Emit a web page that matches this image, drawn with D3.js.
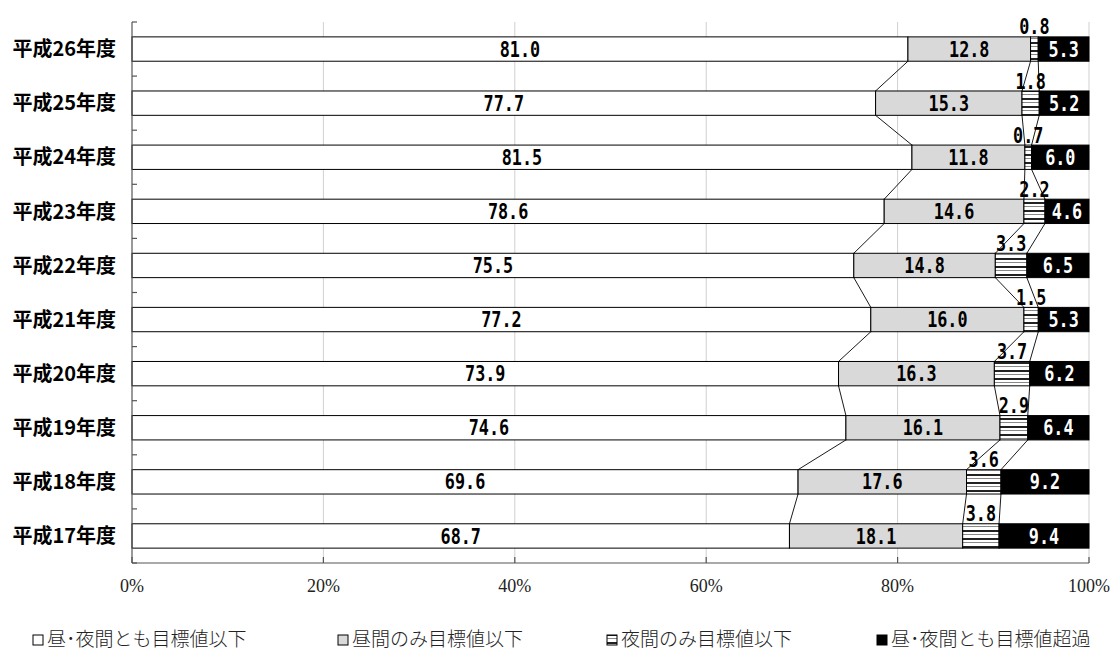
<!DOCTYPE html>
<html><head><meta charset="utf-8">
<script src="https://cdn.jsdelivr.net/npm/d3@7"></script>
<style>
html,body{margin:0;padding:0;background:#fff;}
svg{display:block;}
</style></head>
<body>
<svg id="chart" width="1112" height="651"></svg>
<script>
// ---- data ----
const categories = ["平成26年度","平成25年度","平成24年度","平成23年度","平成22年度","平成21年度","平成20年度","平成19年度","平成18年度","平成17年度"];
const seriesNames = ["昼･夜間とも目標値以下","昼間のみ目標値以下","夜間のみ目標値以下","昼･夜間とも目標値超過"];
const bothBelow  = [81.0,77.7,81.5,78.6,75.5,77.2,73.9,74.6,69.6,68.7];
const dayOnly    = [12.8,15.3,11.8,14.6,14.8,16.0,16.3,16.1,17.6,18.1];
const nightOnly  = [0.8,1.8,0.7,2.2,3.3,1.5,3.7,2.9,3.6,3.8];
const bothAbove  = [5.3,5.2,6.0,4.6,6.5,5.3,6.2,6.4,9.2,9.4];
const xTicks = [0,20,40,60,80,100];
const xTickLabels = ["0%","20%","40%","60%","80%","100%"];

// ---- layout ----
const L = 132, R = 1089, T = 22, B = 563;
const svg = d3.select("#chart");
const defs = svg.append("defs");
const pat = defs.append("pattern").attr("id","stripe").attr("patternUnits","userSpaceOnUse")
  .attr("width",8).attr("height",8);
pat.append("rect").attr("width",8).attr("height",8).attr("fill","#fff");
pat.append("rect").attr("y",2).attr("width",8).attr("height",2).attr("fill","#222");
pat.append("rect").attr("y",6).attr("width",8).attr("height",1).attr("fill","#888");
const fills = ["#ffffff","#d9d9d9","url(#stripe)","#000000"];
const labelColors = ["#000","#000","#000","#fff"];

const series = [bothBelow, dayOnly, nightOnly, bothAbove];
const x = d3.scaleLinear().domain([0,100]).range([L,R]);
const y = d3.scaleBand().domain(categories).range([T,B]).paddingInner(0.55).paddingOuter(0.275);
const bw = y.bandwidth();

// normalized stacks
const rows = categories.map((c,i)=>{
  const vals = series.map(s=>s[i]);
  const tot = d3.sum(vals);
  let cum = 0;
  const segs = vals.map((v,k)=>{ const s0 = cum; cum += v/tot*100; return {k, v, x0:s0, x1:cum}; });
  return {c, segs};
});

// gridlines
svg.append("g").selectAll("line").data(xTicks.slice(1)).join("line")
  .attr("x1",d=>x(d)).attr("x2",d=>x(d)).attr("y1",T).attr("y2",B)
  .attr("stroke","#d0d0d0").attr("stroke-width",1);

// series lines
const sl = svg.append("g").attr("stroke","#000").attr("stroke-width",0.9);
for(let i=0;i<rows.length-1;i++){
  for(let k=0;k<3;k++){
    sl.append("line")
      .attr("x1",x(rows[i].segs[k].x1)).attr("y1",y(rows[i].c)+bw)
      .attr("x2",x(rows[i+1].segs[k].x1)).attr("y2",y(rows[i+1].c));
  }
}

// bars
const bars = svg.append("g");
rows.forEach(r=>{
  bars.selectAll(null).data(r.segs).join("rect")
    .attr("x",d=>x(d.x0)).attr("width",d=>x(d.x1)-x(d.x0))
    .attr("y",y(r.c)).attr("height",bw)
    .attr("fill",d=>fills[d.k]).attr("stroke","#000").attr("stroke-width",1);
});

// labels
const fmt = d3.format(".1f");
const lab = svg.append("g").attr("font-family","'DejaVu Sans Mono', monospace")
  .attr("font-weight","bold").attr("font-size",21).attr("text-anchor","middle");
rows.forEach(r=>{
  r.segs.forEach(d=>{
    const cx = (x(d.x0)+x(d.x1))/2;
    const cy = d.k===2 ? y(r.c)-10 : y(r.c)+bw/2;
    lab.append("text")
      .attr("transform",`translate(${cx},${cy}) scale(0.8,1)`)
      .attr("dy","0.36em")
      .attr("fill", labelColors[d.k])
      .text(fmt(d.v));
  });
});

// axes
const yAxisG = svg.append("g").attr("stroke","#555").attr("stroke-width",1.2);
yAxisG.append("line").attr("x1",L).attr("x2",L).attr("y1",T).attr("y2",B);
const bounds = categories.map(c=>y(c)-(y.step()-bw)/2).concat([B]);
yAxisG.selectAll(".yt").data(bounds).join("line").attr("class","yt")
  .attr("x1",L).attr("x2",L+5).attr("y1",d=>d).attr("y2",d=>d);
const xAxisG = svg.append("g").attr("stroke","#555").attr("stroke-width",1.2);
xAxisG.append("line").attr("x1",L).attr("x2",R).attr("y1",B).attr("y2",B);
xAxisG.selectAll(".xt").data(xTicks).join("line").attr("class","xt")
  .attr("x1",d=>x(d)).attr("x2",d=>x(d)).attr("y1",B).attr("y2",B-6);

svg.append("g").attr("font-family","'Liberation Serif', serif").attr("font-size",18)
  .attr("fill","#222").attr("text-anchor","middle")
  .selectAll("text").data(xTicks).join("text")
  .attr("x",d=>x(d)).attr("y",592).text((d,i)=>xTickLabels[i]);

svg.append("g").attr("font-family","'Noto Sans CJK JP', sans-serif").attr("font-size",20)
  .attr("font-weight","bold").attr("fill","#000").attr("text-anchor","end")
  .selectAll("text").data(categories).join("text")
  .attr("x",116).attr("y",c=>y(c)+bw/2).attr("dy","0.36em").text(c=>c);

// legend
const legX = [33, 338, 607, 877];
const lg = svg.append("g");
seriesNames.forEach((n,k)=>{
  lg.append("rect").attr("x",legX[k]).attr("y",635).attr("width",10).attr("height",10)
    .attr("fill", k===2 ? "url(#stripe)" : fills[k]).attr("stroke","#000").attr("stroke-width",1);
  lg.append("text").attr("x",legX[k]+14).attr("y",639).attr("dy","0.36em")
    .attr("font-family","'Noto Sans CJK JP', sans-serif").attr("font-size",19).attr("font-weight",300)
    .attr("fill","#222").text(n);
});
</script>
</body></html>
